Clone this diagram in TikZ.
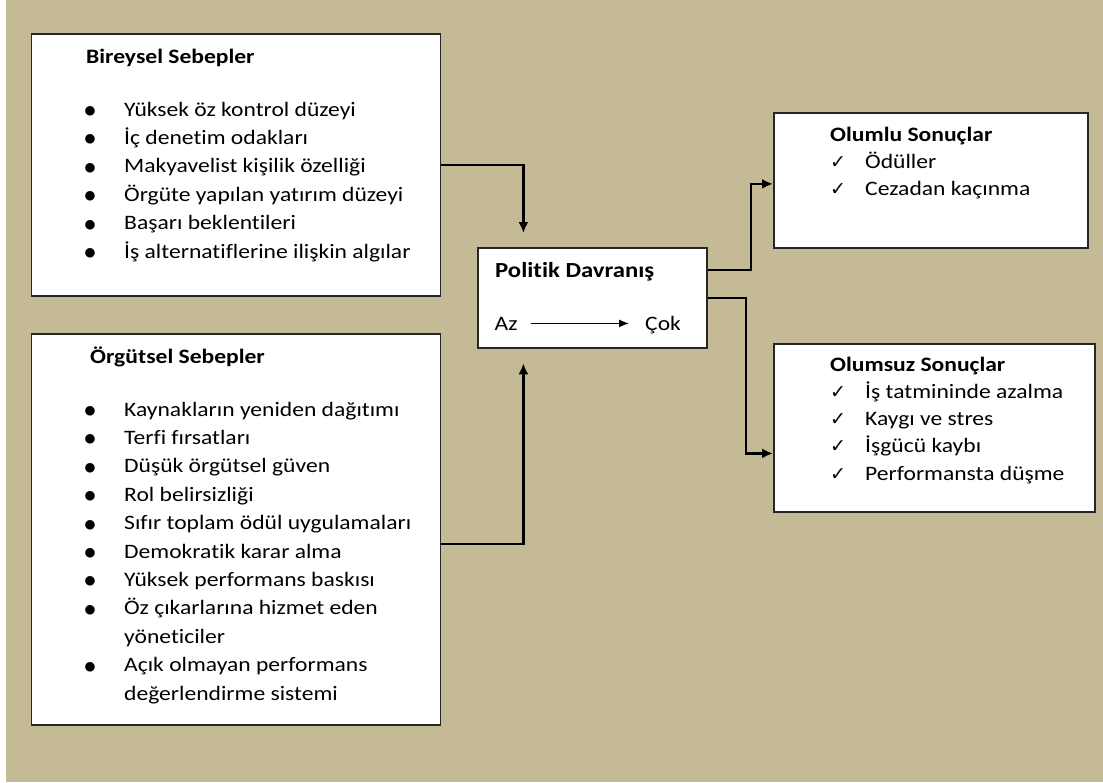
\documentclass[tikz,border=0pt]{standalone}
\usepackage{fontspec}
\setmainfont[Ligatures=NoCommon,FakeStretch=1.15]{Carlito}
\newfontfamily\isaretfont{DejaVu Sans}
\usetikzlibrary{arrows.meta,positioning}
\definecolor{zemin}{RGB}{197,186,150}
\tikzstyle{kutu}=[rectangle,draw=black!85,line width=1.8pt,fill=white,anchor=north west,inner sep=0pt]
\tikzstyle{yazi}=[anchor=base west,inner sep=0pt,font=\fontsize{20.5}{28.4}\selectfont]
\tikzstyle{sagyazi}=[yazi,font=\fontsize{20.5}{27.3}\selectfont]
\tikzstyle{baslik}=[yazi,font=\fontsize{20.5}{28.4}\selectfont\bfseries]
\tikzstyle{ok}=[-{Latex[length=11pt,width=10pt]},line width=2.2pt]
\newcommand{\tik}{{\isaretfont\fontsize{19}{19}\selectfont ✓}}
\newcommand{\nokta}{\raisebox{1.5pt}{\isaretfont\fontsize{12.5}{12.5}\selectfont ●}}

\begin{document}
\begin{tikzpicture}[x=1pt,y=-1pt]
  \useasboundingbox (0,0) rectangle (1103,782);
  \fill[white] (0,0) rectangle (1103,782);
  \fill[zemin] (6,0) rectangle (1103,782);
  % kutular
  \node[kutu,minimum width=409pt,minimum height=262pt] (bireysel) at (30.5,33) {};
  \node[kutu,minimum width=409pt,minimum height=391pt] (orgutsel) at (30.5,333) {};
  \node[kutu,minimum width=229pt,minimum height=100pt] (politik) at (477,247) {};
  \node[kutu,minimum width=314pt,minimum height=135pt] (olumlu) at (773,112) {};
  \node[kutu,minimum width=321pt,minimum height=168pt] (olumsuz) at (773,343) {};
  % sebepler
  \node[baslik] (bireyselbaslik) at (86,63) {Bireysel Sebepler};
  \node[yazi] (bireyselliste) at (84.5,116) {\begin{tabular}[t]{@{}p{39.5pt}@{}l@{}}
    \nokta & Yüksek öz kontrol düzeyi\\
    \nokta & İç denetim odakları\\
    \nokta & Makyavelist kişilik özelliği\\
    \nokta & Örgüte yapılan yatırım düzeyi\\
    \nokta & Başarı beklentileri\\
    \nokta & İş alternatiflerine ilişkin algılar
  \end{tabular}};
  \node[baslik] (orgutselbaslik) at (90,363) {Örgütsel Sebepler};
  \node[yazi] (orgutselliste) at (84.5,416) {\begin{tabular}[t]{@{}p{39.5pt}@{}l@{}}
    \nokta & Kaynakların yeniden dağıtımı\\
    \nokta & Terfi fırsatları\\
    \nokta & Düşük örgütsel güven\\
    \nokta & Rol belirsizliği\\
    \nokta & Sıfır toplam ödül uygulamaları\\
    \nokta & Demokratik karar alma\\
    \nokta & Yüksek performans baskısı\\
    \nokta & Öz çıkarlarına hizmet eden\\
           & yöneticiler\\
    \nokta & Açık olmayan performans\\
           & değerlendirme sistemi
  \end{tabular}};
  % politik davranis
  \node[baslik,font=\fontsize{21.5}{28.4}\selectfont\bfseries] (politikbaslik) at (495,277.5) {Politik Davranış};
  \node[yazi] (az) at (494.5,330) {Az};
  \node[yazi] (cok) at (645,330) {Çok};
  \draw[-{Latex[length=10pt,width=8pt]},line width=1.3pt,shorten <=13pt,shorten >=16pt] (az.east) -- (cok.west |- az.east);
  % sonuclar
  \node[sagyazi] (olumluliste) at (830,141) {\begin{tabular}[t]{@{}p{35pt}@{}l@{}}
    \multicolumn{2}{@{}l@{}}{\bfseries Olumlu Sonuçlar}\\
    \tik & Ödüller\\
    \tik & Cezadan kaçınma
  \end{tabular}};
  \node[sagyazi] (olumsuzliste) at (830,371) {\begin{tabular}[t]{@{}p{35pt}@{}l@{}}
    \multicolumn{2}{@{}l@{}}{\bfseries Olumsuz Sonuçlar}\\
    \tik & İş tatmininde azalma\\
    \tik & Kaygı ve stres\\
    \tik & İşgücü kaybı\\
    \tik & Performansta düşme
  \end{tabular}};
  % oklar
  \draw[ok,shorten >=14pt] (bireysel.east) -| ([xshift=-69pt]politik.north);
  \draw[ok,shorten >=14.5pt] ([yshift=-14.5pt]orgutsel.east) -| ([xshift=-69pt]politik.south);
  \draw[ok] ([yshift=28pt]politik.east) -- ++(43.5,0) |- ([yshift=-3.5pt]olumlu.west);
  \draw[ok] (politik.east) -- ++(38.5,0) |- ([yshift=-25.5pt]olumsuz.west);
\end{tikzpicture}
\end{document}
